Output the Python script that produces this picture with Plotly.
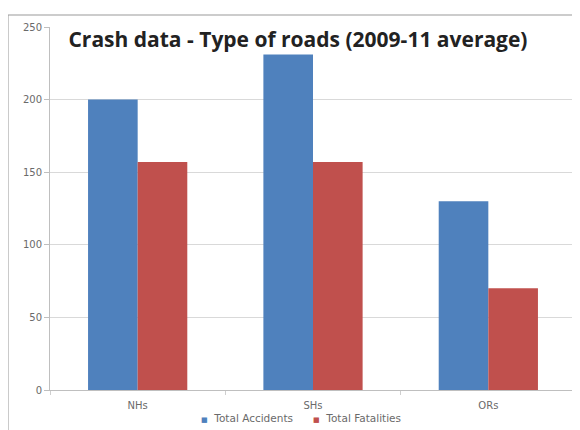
import plotly.graph_objects as go

road_types = ["NHs", "SHs", "ORs"]
total_accidents = [200, 231, 130]
total_fatalities = [157, 157, 70]
series_names = ["Total Accidents", "Total Fatalities"]
series_colors = ["#4F81BD", "#C0504D"]

fig = go.Figure()
for name, vals, col in zip(series_names, [total_accidents, total_fatalities], series_colors):
    fig.add_trace(go.Bar(x=road_types, y=vals, name=name,
                         marker=dict(color=col, line=dict(width=0))))

# legend drawn as a text line, like the Excel one (small squares)
legend_text = "&nbsp;&nbsp;&nbsp;&nbsp;&nbsp;&nbsp;".join(
    f'<span style="color:{c};font-size:7px">■</span>&nbsp; {n}' for n, c in zip(series_names, series_colors))

fig.update_layout(
    width=580, height=430,
    margin=dict(l=42, r=12, t=19, b=48),
    paper_bgcolor="white", plot_bgcolor="white",
    barmode="group", bargap=0.434, bargroupgap=0,
    font=dict(family="DejaVu Sans", size=10, color="#6a6a6a"),
    title=dict(text="<b>Crash data - Type of roads (2009-11 average)</b>",
               x=0.5, xanchor="center", y=0.926, yanchor="middle",
               font=dict(family="Open Sans", size=21, color="#222222")),
    showlegend=False,
    annotations=[dict(text=legend_text, xref="paper", yref="paper",
                      x=0.477, y=-0.077, xanchor="center", yanchor="middle",
                      showarrow=False, font=dict(family="DejaVu Sans", size=10.5, color="#6a6a6a"))],
    shapes=[dict(type="rect", xref="paper", yref="paper",
                 x0=-0.08, x1=1.004, y0=-0.2, y1=1.033,
                 line=dict(color="#9a9a9a", width=1.2))],
)
fig.update_yaxes(range=[0, 250], dtick=50, showgrid=True, gridcolor="#d9d9d9",
                 showline=True, linecolor="#bfbfbf", ticks="outside", ticklen=5,
                 tickcolor="#bfbfbf", zeroline=False, automargin=False)
fig.update_xaxes(showline=True, linecolor="#bfbfbf", ticks="outside", ticklen=4,
                 tickcolor="#cfcfcf", tickson="boundaries", showgrid=False,
                 ticklabelstandoff=6, automargin=False)

fig.write_html("out.html")
